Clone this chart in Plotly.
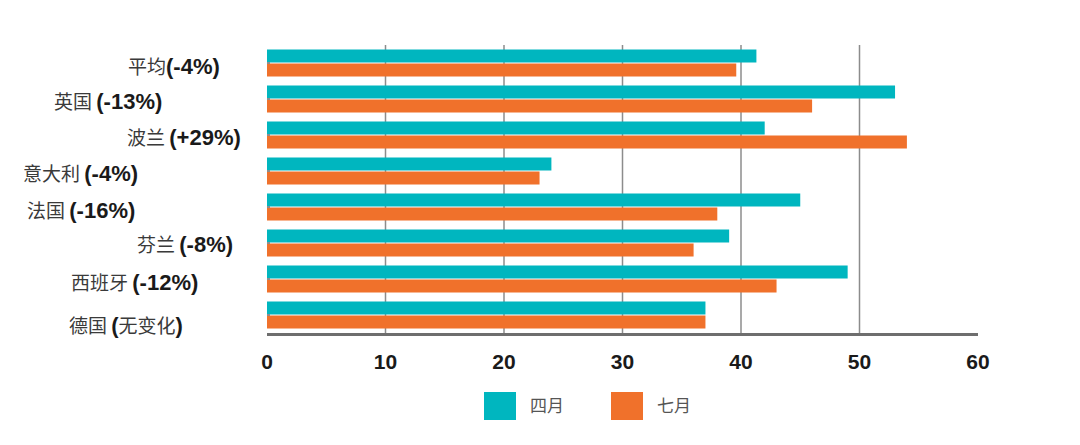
import plotly.graph_objects as go

# ---- data ----
categories = ["平均", "英国", "波兰", "意大利", "法国", "芬兰", "西班牙", "德国"]
changes = ["(-4%)", "(-13%)", "(+29%)", "(-4%)", "(-16%)", "(-8%)", "(-12%)", "(无变化)"]
april = [41.3, 53, 42, 24, 45, 39, 49, 37]
july = [39.6, 46, 54, 23, 38, 36, 43, 37]
series_names = ["四月", "七月"]
x_ticks = [0, 10, 20, 30, 40, 50, 60]

# ---- style ----
TEAL = "#00B6BF"
ORANGE = "#F0712B"
OFF = 8                       # page body margin
W, H = 1080 - 2 * OFF, 445 - OFF
# plot area in page pixels: x 267..978, y 45..333
ML = 267 - OFF
MR = W - (978 - OFF)
MT = 45 - OFF
MB = H - (333 - OFF)
plot_w = W - ML - MR
plot_h = H - MT - MB

label_right_px = [222, 164, 243, 140, 137, 235, 200, 185]   # page px: right edge of each row label
label_dy = [-2, -1, -1, -1, -2, 0, -2, -9]
label_sep = ["", " ", " ", " ", " ", " ", " ", " "]


def px_x(px):
    return (px - OFF - ML) / plot_w


def px_y(py):
    return (H - MB - (py - OFF)) / plot_h


fig = go.Figure()
fig.add_trace(go.Bar(y=categories, x=april, orientation="h", name=series_names[0],
                     marker=dict(color=TEAL, line=dict(width=0)), showlegend=False))
fig.add_trace(go.Bar(y=categories, x=july, orientation="h", name=series_names[1],
                     marker=dict(color=ORANGE, line=dict(width=0)), showlegend=False))

BSTY = "font-size:22px;font-family:Liberation Sans;color:#1a1a1a"
annotations = []
for i, (c, ch) in enumerate(zip(categories, changes)):
    if ch == "(无变化)":
        txt = f"{c}{label_sep[i]}<span style='{BSTY}'><b>(</b></span>无变化<span style='{BSTY}'><b>)</b></span>"
    else:
        txt = f"{c}{label_sep[i]}<span style='{BSTY}'><b>{ch}</b></span>"
    annotations.append(dict(
        x=px_x(label_right_px[i]), xref="paper", xanchor="right",
        y=c, yref="y", yanchor="middle", yshift=label_dy[i],
        text=txt, showarrow=False,
        font=dict(family="Noto Sans CJK SC", size=19, color="#3a3a3a"),
    ))

# legend (large square keys)
keys = [(484, 516, TEAL, 528, series_names[0]), (611, 643, ORANGE, 655, series_names[1])]
shapes = []
for x0, x1, col, tx, name in keys:
    shapes.append(dict(type="rect", xref="paper", yref="paper",
                       x0=px_x(x0), x1=px_x(x1), y0=px_y(420), y1=px_y(392),
                       fillcolor=col, line=dict(width=0)))
    annotations.append(dict(x=px_x(tx), xref="paper", xanchor="left",
                            y=px_y(404), yref="paper", yanchor="middle",
                            text=name, showarrow=False,
                            font=dict(family="Noto Sans CJK SC", size=17, color="#555")))

# gridlines at inner ticks
for t in x_ticks[1:-1]:
    shapes.append(dict(type="line", xref="x", yref="paper", x0=t, x1=t, y0=0, y1=1,
                       line=dict(color="#8c8c8c", width=1.5), layer="below"))

fig.update_layout(
    width=W, height=H,
    margin=dict(l=ML, r=MR, t=MT, b=MB),
    plot_bgcolor="white", paper_bgcolor="white",
    barmode="group", bargap=0.22, bargroupgap=0.08,
    annotations=annotations, shapes=shapes,
    xaxis=dict(range=[0, 60], tickvals=x_ticks, showgrid=False, zeroline=False,
               showline=True, linecolor="#6e6e6e", linewidth=2.5,
               ticks="", ticklabelstandoff=8,
               tickfont=dict(family="Liberation Sans", size=21, color="#1a1a1a", weight="bold")),
    yaxis=dict(categoryorder="array", categoryarray=categories, autorange="reversed",
               showticklabels=False, showgrid=False, zeroline=False,
               showline=False, ticks="inside", ticklen=3, tickwidth=1.5, tickcolor="#8c8c8c"),
    showlegend=False,
)

fig.write_html("out.html")
